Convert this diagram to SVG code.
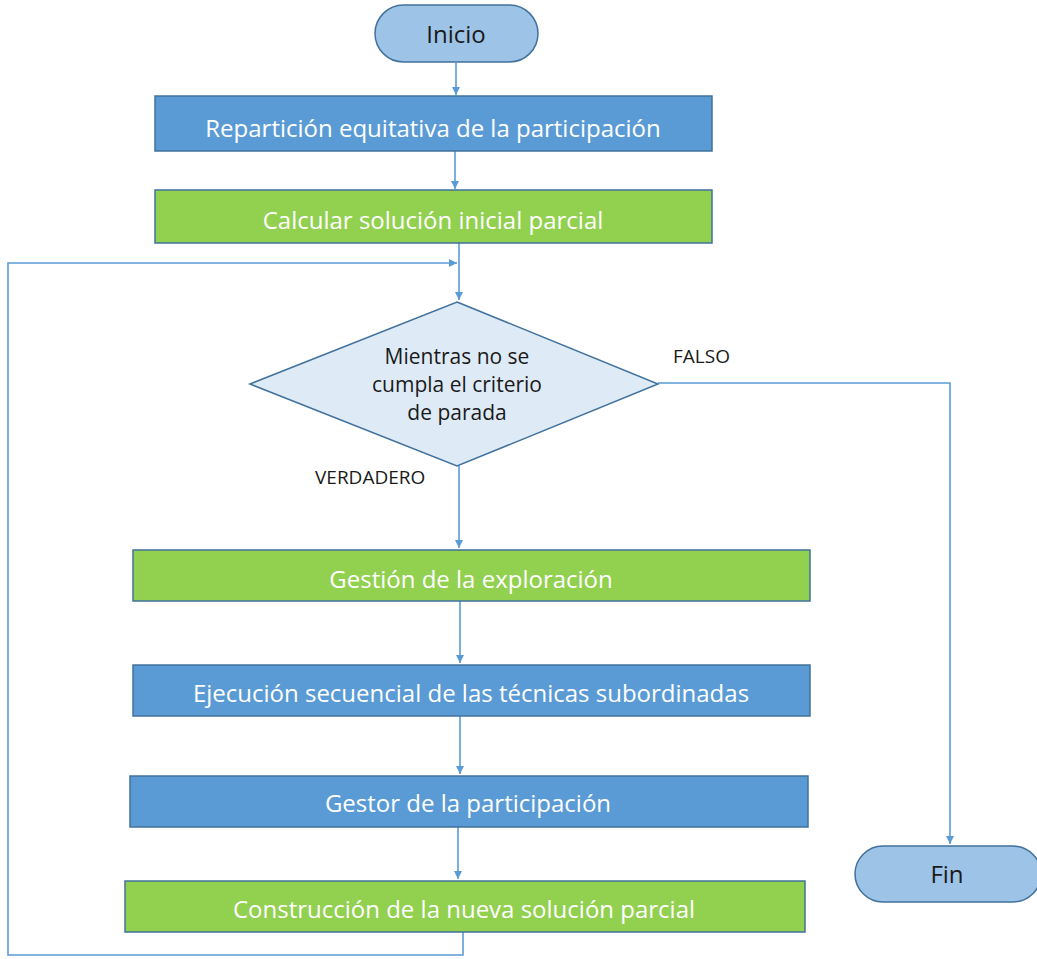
<svg xmlns="http://www.w3.org/2000/svg" width="1037" height="959" viewBox="0 0 1037 959">
  <style>
    .blue { fill: #5B9BD5; stroke: #41719C; stroke-width: 1.5; }
    .green { fill: #92D050; stroke: #41719C; stroke-width: 1.5; }
    .term { fill: #9DC3E6; stroke: #41719C; stroke-width: 1.5; }
    .dec { fill: #DEEBF7; stroke: #41719C; stroke-width: 1.5; }
    .wt { font-family: "Open Sans", "Noto Sans", sans-serif; font-size: 24px; fill: #FFFFFF; text-anchor: middle; dominant-baseline: central; }
    .bt { font-family: "Open Sans", "Noto Sans", sans-serif; font-size: 24px; fill: #1A1A1A; text-anchor: middle; dominant-baseline: central; }
    .dt { font-family: "Open Sans", "Noto Sans", sans-serif; font-size: 21px; fill: #1A1A1A; text-anchor: middle; dominant-baseline: central; }
    .lbl { font-family: "Open Sans", "Noto Sans", sans-serif; font-size: 19px; fill: #1A1A1A; dominant-baseline: central; }
    .conn { fill: none; stroke: #5B9BD5; stroke-width: 1.6; }
  </style>
  <defs>
    <marker id="arrow" viewBox="0 0 10 10" refX="10" refY="5" markerWidth="8" markerHeight="8" markerUnits="userSpaceOnUse" orient="auto">
      <path d="M0,0 L10,5 L0,10 z" fill="#5B9BD5"/>
    </marker>
  </defs>

  <rect width="1037" height="959" fill="#FFFFFF"/>

  <g id="connectors">
    <line class="conn" x1="456" y1="63" x2="456" y2="95" marker-end="url(#arrow)"/>
    <line class="conn" x1="455" y1="151" x2="455" y2="189" marker-end="url(#arrow)"/>
    <line class="conn" x1="459" y1="243" x2="459" y2="300" marker-end="url(#arrow)"/>
    <line class="conn" x1="459" y1="466" x2="459" y2="548" marker-end="url(#arrow)"/>
    <line class="conn" x1="460" y1="601" x2="460" y2="663" marker-end="url(#arrow)"/>
    <line class="conn" x1="460" y1="716" x2="460" y2="774" marker-end="url(#arrow)"/>
    <line class="conn" x1="458" y1="827" x2="458" y2="879" marker-end="url(#arrow)"/>
    <polyline class="conn" points="658,383 950,383 950,844" marker-end="url(#arrow)"/>
    <polyline class="conn" points="463,932 463,955 8,955 8,263 457,263" marker-end="url(#arrow)"/>
  </g>

  <g id="inicio">
    <rect class="term" x="375" y="5" width="163" height="57" rx="28.5"/>
    <text class="bt" x="456" y="33">Inicio</text>
  </g>

  <g id="reparticion">
    <rect class="blue" x="155" y="96" width="557" height="55"/>
    <text class="wt" x="433" y="127">Repartición equitativa de la participación</text>
  </g>

  <g id="calcular">
    <rect class="green" x="155" y="190" width="557" height="53"/>
    <text class="wt" x="433" y="219">Calcular solución inicial parcial</text>
  </g>

  <g id="decision">
    <polygon class="dec" points="457,302 658,384 457,466 250,384"/>
    <text class="dt" x="457" y="356">Mientras no se</text>
    <text class="dt" x="457" y="384">cumpla el criterio</text>
    <text class="dt" x="457" y="412">de parada</text>
  </g>

  <g id="labels">
    <text class="lbl" x="315" y="477">VERDADERO</text>
    <text class="lbl" x="673" y="356">FALSO</text>
  </g>

  <g id="gestion">
    <rect class="green" x="133" y="550" width="677" height="51"/>
    <text class="wt" x="471" y="578">Gestión de la exploración</text>
  </g>

  <g id="ejecucion">
    <rect class="blue" x="133" y="665" width="677" height="51"/>
    <text class="wt" x="471" y="692">Ejecución secuencial de las técnicas subordinadas</text>
  </g>

  <g id="gestor">
    <rect class="blue" x="130" y="776" width="678" height="51"/>
    <text class="wt" x="468" y="802">Gestor de la participación</text>
  </g>

  <g id="construccion">
    <rect class="green" x="125" y="881" width="680" height="51"/>
    <text class="wt" x="464" y="908">Construcción de la nueva solución parcial</text>
  </g>

  <g id="fin">
    <rect class="term" x="855" y="846" width="186" height="56" rx="28"/>
    <text class="bt" x="947" y="873">Fin</text>
  </g>
</svg>
